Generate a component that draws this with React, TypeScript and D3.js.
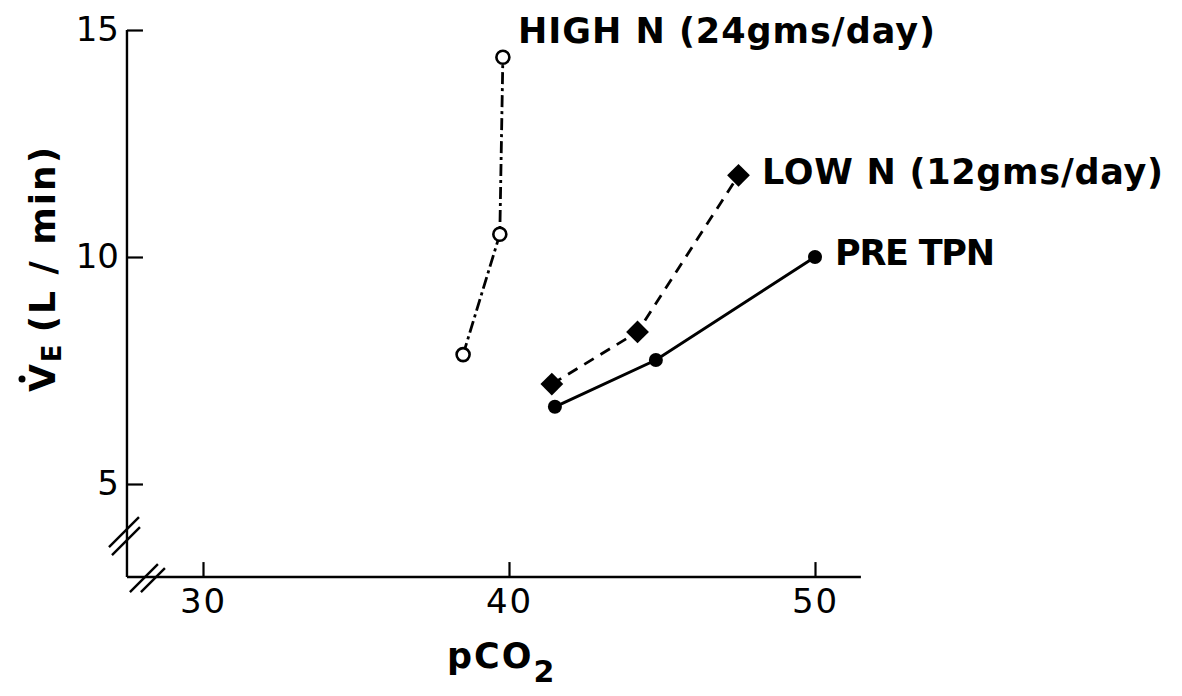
import React, { useEffect, useRef } from 'react';
import * as d3 from 'd3';

// pCO2 (x) vs minute ventilation V̇E (y)
const highN_pco2 = [38.5, 39.7, 39.8];
const highN_ve = [7.85, 10.5, 14.4];
const lowN_pco2 = [41.4, 44.2, 47.5];
const lowN_ve = [7.2, 8.35, 11.8];
const pre_pco2 = [41.5, 44.8, 50.0];
const pre_ve = [6.7, 7.73, 10.0];

const xTicks = [30, 40, 50];
const yTicks = [5, 10, 15];

const seriesLabels = ['HIGH N (24gms/day)', 'LOW N (12gms/day)', 'PRE TPN'];

const App: React.FC = () => {
  const svgRef = useRef<SVGSVGElement>(null);

  useEffect(() => {
    if (!svgRef.current) return;
    const svg = d3.select(svgRef.current);
    svg.selectAll('*').remove();

    const width = 1182;
    const height = 696;
    const font = '"DejaVu Sans", "Liberation Sans", sans-serif';
    const ink = '#000';

    svg.attr('width', width).attr('height', height);

    const x = d3.scaleLinear().domain([30, 50]).range([203, 815]);
    const y = d3.scaleLinear().domain([5, 15]).range([484, 30]);

    // axis extents (the axes start below the broken region)
    const xMin = 27.45, xMax = 51.5;
    const yMin = 2.95, yMax = 15;
    const x0 = x(xMin) + 2;
    const y0 = y(yMin);

    // axis lines
    svg.append('line')
      .attr('x1', x0).attr('y1', y0)
      .attr('x2', x0).attr('y2', y(yMax))
      .attr('stroke', ink).attr('stroke-width', 2.4);
    svg.append('line')
      .attr('x1', x0).attr('y1', y0)
      .attr('x2', x(xMax)).attr('y2', y0)
      .attr('stroke', ink).attr('stroke-width', 2.4);

    // ticks, pointing inward
    const xAxis = d3.axisBottom(x).tickValues(xTicks).tickSize(-15).tickSizeOuter(0).tickPadding(12);
    const gx = svg.append('g').attr('transform', `translate(0, ${y0})`).call(xAxis);
    gx.select('.domain').remove();
    gx.selectAll('line').attr('stroke', ink).attr('stroke-width', 2.2);
    gx.selectAll('text')
      .attr('fill', ink)
      .attr('font-family', font)
      .attr('font-size', 34)
      .attr('letter-spacing', 2)
      .text((d: any) => String(d));

    const yAxis = d3.axisLeft(y).tickValues(yTicks).tickSize(-16).tickSizeOuter(0).tickPadding(8);
    const gy = svg.append('g').attr('transform', `translate(${x0}, 0)`).call(yAxis);
    gy.select('.domain').remove();
    gy.selectAll('line').attr('stroke', ink).attr('stroke-width', 2.2);
    gy.selectAll('text')
      .attr('fill', ink)
      .attr('font-family', font)
      .attr('font-size', 34)
      .text((d: any) => String(d));

    // axis break marks
    const brk = (cx: number, cy: number, half: number) =>
      svg.append('line')
        .attr('x1', cx - half).attr('y1', cy + half)
        .attr('x2', cx + half).attr('y2', cy - half)
        .attr('stroke', ink).attr('stroke-width', 2.4);
    const yb = y(3.85);
    brk(x0 - 3, yb - 4, 15);
    brk(x0 - 1, yb + 5, 14);
    const xb = x(28.2);
    brk(xb - 4, y0 + 1, 14);
    brk(xb + 5, y0 + 3, 12);

    // series
    const line = d3.line<[number, number]>()
      .x(d => x(d[0]))
      .y(d => y(d[1]));

    const highN = highN_pco2.map((v, i) => [v, highN_ve[i]] as [number, number]);
    const lowN = lowN_pco2.map((v, i) => [v, lowN_ve[i]] as [number, number]);
    const pre = pre_pco2.map((v, i) => [v, pre_ve[i]] as [number, number]);

    svg.append('path').datum(highN).attr('d', line)
      .attr('fill', 'none').attr('stroke', ink).attr('stroke-width', 2.8)
      .attr('stroke-dasharray', '12,4,3,4');
    svg.append('path').datum(lowN).attr('d', line)
      .attr('fill', 'none').attr('stroke', ink).attr('stroke-width', 2.8)
      .attr('stroke-dasharray', '11,8');
    svg.append('path').datum(pre).attr('d', line)
      .attr('fill', 'none').attr('stroke', ink).attr('stroke-width', 3);

    svg.selectAll('.open')
      .data(highN).enter().append('circle')
      .attr('cx', d => x(d[0])).attr('cy', d => y(d[1]))
      .attr('r', 6.5)
      .attr('fill', '#fff').attr('stroke', ink).attr('stroke-width', 2.6);

    svg.selectAll('.diamond')
      .data(lowN).enter().append('path')
      .attr('d', d3.symbol().type(d3.symbolSquare).size(260)())
      .attr('transform', d => `translate(${x(d[0])}, ${y(d[1])}) rotate(45)`)
      .attr('fill', ink);

    svg.selectAll('.filled')
      .data(pre).enter().append('circle')
      .attr('cx', d => x(d[0])).attr('cy', d => y(d[1]))
      .attr('r', 7)
      .attr('fill', ink);

    // series labels
    const label = (txt: string, lx: number, ly: number, len: number) =>
      svg.append('text')
        .attr('x', lx).attr('y', ly)
        .attr('font-family', font)
        .attr('font-size', 35)
        .attr('font-weight', 'bold')
        .attr('fill', ink)
        .attr('textLength', len)
        .attr('lengthAdjust', 'spacing')
        .text(txt);
    label(seriesLabels[0], 518, 43, 417);
    label(seriesLabels[1], 762, 184, 401);
    label(seriesLabels[2], 835, 265, 160);

    // x title: pCO2
    const xt = svg.append('text')
      .attr('x', 447).attr('y', 668)
      .attr('font-family', font)
      .attr('font-size', 35)
      .attr('font-weight', 'bold')
      .attr('letter-spacing', 2)
      .attr('fill', ink);
    xt.append('tspan').text('pCO');
    xt.append('tspan').attr('dy', 14).attr('font-size', 30).text('2');

    // y title: V̇E (L / min)
    const yg = svg.append('g').attr('transform', 'translate(55, 275) rotate(-90)');
    const yt = yg.append('text')
      .attr('x', -117).attr('y', 0)
      .attr('font-family', font)
      .attr('font-size', 36)
      .attr('font-weight', 'bold')
      .attr('letter-spacing', 2)
      .attr('fill', ink);
    yt.append('tspan').text('V');
    yt.append('tspan').attr('dy', 6).attr('font-size', 26).text('E');
    yt.append('tspan').attr('dy', -6).attr('dx', 10).text('(L / min)');
    yg.append('circle').attr('cx', -104).attr('cy', -33).attr('r', 3.5).attr('fill', ink);
  }, []);

  return (
    <div style={{ position: 'absolute', left: 0, top: 0 }}>
      <svg ref={svgRef} style={{ display: 'block', background: '#fff' }}></svg>
    </div>
  );
};

export default App;
